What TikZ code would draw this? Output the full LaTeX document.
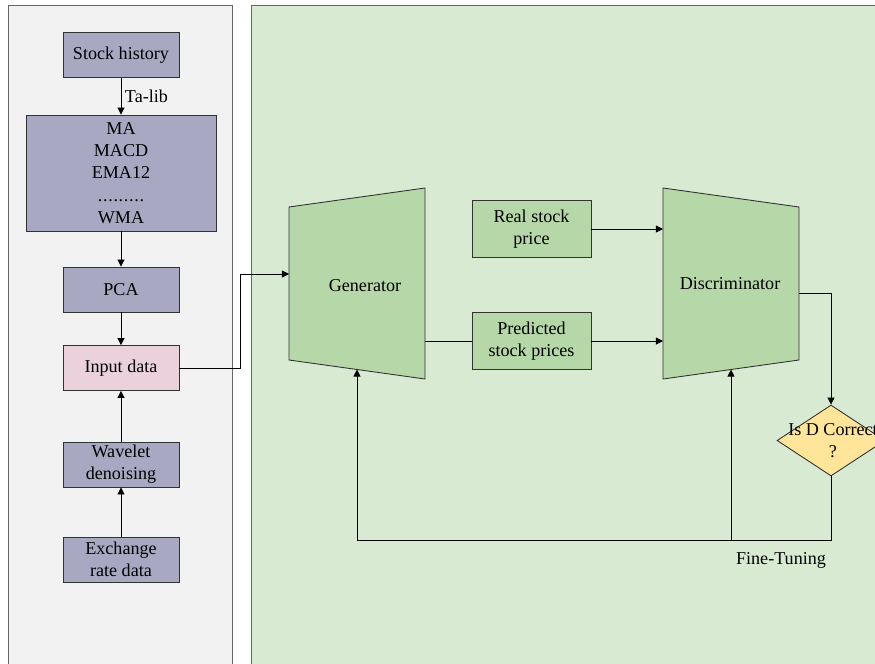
\documentclass[tikz,border=0pt]{standalone}
\usepackage{fontspec}
\setmainfont{Liberation Serif}
\usetikzlibrary{shapes.geometric,arrows.meta}

\definecolor{leftbg}{RGB}{242,242,242}
\definecolor{rightbg}{RGB}{217,234,211}
\definecolor{featfill}{RGB}{168,168,194}
\definecolor{inpfill}{RGB}{234,209,220}
\definecolor{ganfill}{RGB}{182,215,168}
\definecolor{decfill}{RGB}{255,229,153}
\definecolor{edge}{RGB}{50,50,50}

\newcommand{\dotrow}{\hbox to 0.94cm{\xleaders\hbox to 0.104cm{\hss.\hss}\hfill}}

\begin{document}
\begin{tikzpicture}[x=0.02cm,y=-0.02cm,
        font=\fontsize{10.3}{12.7}\selectfont,
        line width=0.5pt,
        featbox/.style={draw=edge,fill=featfill,minimum width=2.32cm,minimum height=0.9cm,align=center,inner sep=1pt},
        ganbox/.style={draw=edge,fill=ganfill,minimum width=2.38cm,minimum height=1.13cm,align=center,inner sep=1pt},
        decbox/.style={draw=edge,fill=decfill,diamond,minimum width=2.16cm,minimum height=1.42cm,inner sep=0pt},
        link/.style={-{Triangle[length=4pt,width=4pt]}}]
        \useasboundingbox (0,0) rectangle (875,663);
        \clip (0,0) rectangle (875,663);

        % panels
        \draw[draw=gray!80!black,fill=leftbg] (8.7,5) rectangle (232,680);
        \draw[draw=gray!80!black,fill=rightbg] (251,5) rectangle (890,680);

        % feature pipeline
        \node[featbox] (hist) at (121,55) {Stock history};
        \node[featbox,minimum width=3.8cm,minimum height=2.32cm] (ind) at (121,173)
            {MA\\MACD\\EMA12\\\dotrow\\WMA};
        \node[featbox] (pca) at (121,289.5) {PCA};
        \node[featbox,fill=inpfill] (inp) at (121,368) {Input data};
        \node[featbox] (wav) at (121,464.5) {Wavelet\\denoising};
        \node[featbox] (exch) at (121,559.5) {Exchange\\rate data};

        \draw[link] (hist) -- node[right,inner sep=2pt]{Ta-lib} (ind);
        \draw[link] (ind) -- (pca);
        \draw[link] (pca) -- (inp);
        \draw[link] (wav) -- (inp);
        \draw[link] (exch) -- (wav);

        % generator and discriminator
        \coordinate (genin) at (289,274);
        \coordinate (genout) at (425,341);
        \coordinate (genbot) at (357,369.5);
        \draw[draw=edge,fill=ganfill] (289,207) -- (425,188) -- (425,379) -- (289,360) -- cycle;
        \node (gen) at (365,286) {Generator};

        \coordinate (disreal) at (663,229);
        \coordinate (dispred) at (663,341);
        \coordinate (disout) at (799,293);
        \coordinate (disbot) at (731,369.5);
        \draw[draw=edge,fill=ganfill] (663,188) -- (799,207) -- (799,360) -- (663,379) -- cycle;
        \node (dis) at (730,284) {Discriminator};

        \node[ganbox] (real) at (531.5,229) {Real stock\\price};
        \node[ganbox] (pred) at (531.5,341) {Predicted\\stock prices};

        \node[decbox] (dec) at (831,440.5) {};
        \node[align=center] (dectext) at (833,440.5) {Is D Correct\\?};

        \coordinate (fb) at (831,540);
        \coordinate (fbmid) at (731,540);
        \node (fine) at (781,560) {Fine-Tuning};

        \draw[link] (inp.east) -| (240,274) -- (genin);
        \draw (genout) -- (pred.west);
        \draw[link] (pred.east) -- (dispred);
        \draw[link] (real.east) -- (disreal);
        \draw[link] (disout) -| (dec.north);
        \draw[link] (dec.south) -- (fb) -| (genbot);
        \draw[link] (fbmid) -- (disbot);
    \end{tikzpicture}
\end{document}
